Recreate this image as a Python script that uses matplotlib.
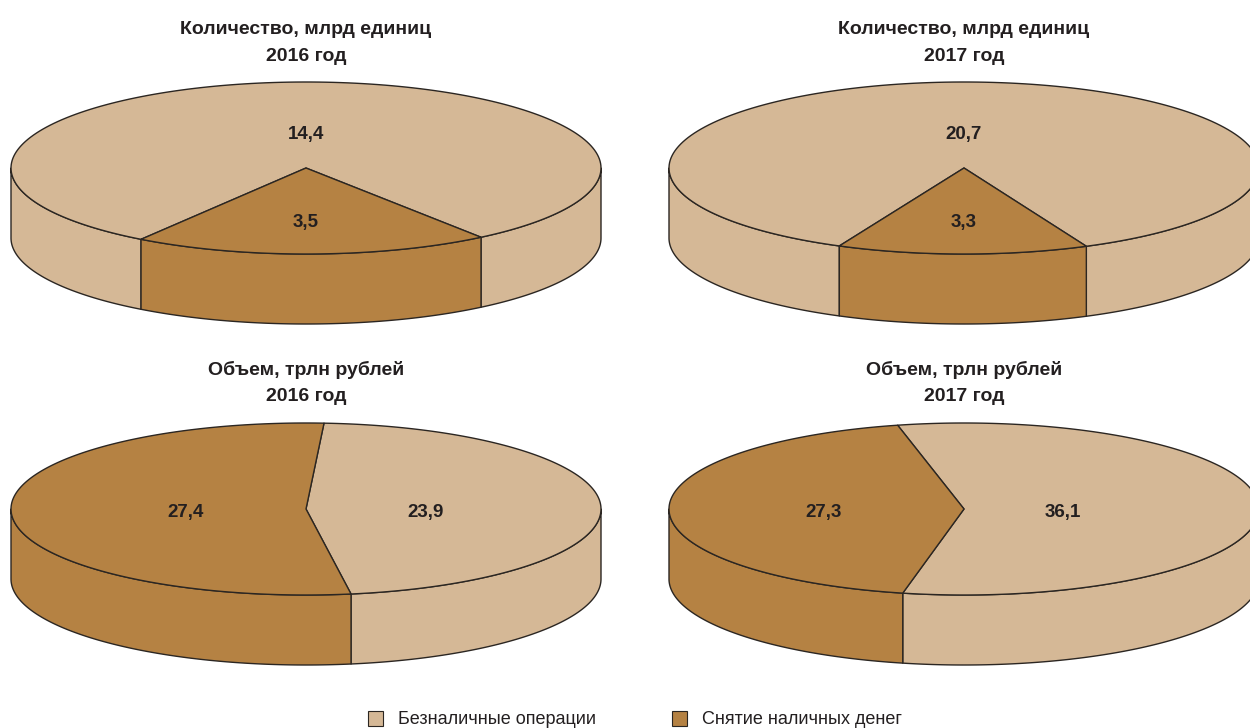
import numpy as np
import matplotlib
matplotlib.use("Agg")
import matplotlib.pyplot as plt
from matplotlib.patches import Polygon, Rectangle

plt.rcParams['font.family'] = ['Liberation Sans', 'DejaVu Sans']

titles = ["Количество, млрд единиц\n2016 год", "Количество, млрд единиц\n2017 год",
          "Объем, трлн рублей\n2016 год", "Объем, трлн рублей\n2017 год"]
cashless = [14.4, 20.7, 23.9, 36.1]
cash = [3.5, 3.3, 27.4, 27.3]
legend_labels = ["Безналичные операции", "Снятие наличных денег"]

TAN = "#d5b896"
BROWN = "#b58243"
LINE = "#2b2622"
TEXT = "#231f20"
RX, RY, DEPTH = 295, 86, 70
centers = [(306, 168), (964, 168), (306, 509), (964, 509)]
cash_start = [236, 245, 86.5, 103]  # where the brown slice begins, degrees
cash_label_pos = [(306, 222), (964, 222), (186, 513), (824, 513)]
cashless_label_pos = [(306, 135), (964, 135), (426, 513), (1063, 513)]
title_y = [43, 43, 383, 383]


def rim(cx, cy, a0, a1, dy=0):
    t = np.radians(np.linspace(a0, a1, 200))
    return np.column_stack([cx + RX * np.cos(t), cy - RY * np.sin(t) + dy])


def wall(ax, cx, cy, a0, a1, color):
    # only the front half of the disc shows a side wall
    for shift in (0, 360, -360):
        lo, hi = max(a0 + shift, 180), min(a1 + shift, 360)
        if hi <= lo:
            continue
        top = rim(cx, cy, lo, hi)
        bottom = rim(cx, cy, hi, lo, DEPTH)
        ax.add_patch(Polygon(np.vstack([top, bottom]), closed=True, fc=color,
                             ec=LINE, lw=1.0, joinstyle="round"))


def slice_top(ax, cx, cy, a0, a1, color):
    pts = np.vstack([[cx, cy], rim(cx, cy, a0, a1)])
    ax.add_patch(Polygon(pts, closed=True, fc=color, ec=LINE, lw=1.0, joinstyle="round"))


fig = plt.figure(figsize=(12.5, 7.28), dpi=100)
ax = fig.add_axes([0, 0, 1, 1])
ax.set_xlim(0, 1250)
ax.set_ylim(728, 0)
ax.axis("off")

for i, (cx, cy) in enumerate(centers):
    sweep = 360 * cash[i] / (cash[i] + cashless[i])
    a0 = cash_start[i]
    a1 = a0 + sweep
    wall(ax, cx, cy, a1, a0 + 360, TAN)
    wall(ax, cx, cy, a0, a1, BROWN)
    slice_top(ax, cx, cy, a1, a0 + 360, TAN)
    slice_top(ax, cx, cy, a0, a1, BROWN)

    ax.text(cx, title_y[i], titles[i], ha="center", va="center", fontsize=14,
            fontweight="bold", color=TEXT, linespacing=1.74)
    ax.text(*cash_label_pos[i], f"{cash[i]:.1f}".replace(".", ","), ha="center", va="center",
            fontsize=13.5, fontweight="bold", color=TEXT)
    ax.text(*cashless_label_pos[i], f"{cashless[i]:.1f}".replace(".", ","), ha="center", va="center",
            fontsize=13.5, fontweight="bold", color=TEXT)

# legend
for x, color, label in zip([368, 672], [TAN, BROWN], legend_labels):
    ax.add_patch(Rectangle((x, 711), 15, 15, fc=color, ec=LINE, lw=0.8))
    ax.text(x + 30, 719, label, ha="left", va="center", fontsize=13, color=TEXT)

fig.savefig("out.png", dpi=100)
